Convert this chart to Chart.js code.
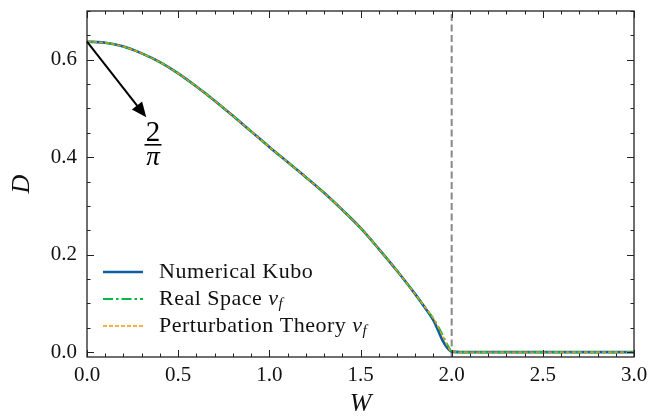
<!DOCTYPE html>
<html lang="en">
<head>
<meta charset="UTF-8">
<title>D vs W</title>
<script src="https://cdn.jsdelivr.net/npm/chart.js@4"></script>
<style>body{margin:0;background:#fff}</style>
</head>
<body>
<canvas id="chart" width="662" height="418"></canvas>
<script>
// values
const W = [0, 0.1, 0.2, 0.3, 0.4, 0.5, 0.6, 0.7, 0.8, 0.9, 1.0, 1.1, 1.2, 1.3, 1.4, 1.5, 1.6, 1.7, 1.8,
           1.85, 1.9, 1.925, 1.95, 1.975, 2.0, 2.05, 2.25, 2.5, 2.75, 3.0];
const kubo = [0.637, 0.635, 0.627, 0.613, 0.595, 0.572, 0.545, 0.516, 0.485, 0.453, 0.421, 0.390, 0.359, 0.327, 0.292, 0.255, 0.212, 0.167, 0.119,
              0.093, 0.065, 0.045, 0.024, 0.009, 0.001, 0, 0, 0, 0, 0];
const realSpace = [0.637, 0.635, 0.627, 0.613, 0.595, 0.572, 0.545, 0.516, 0.485, 0.453, 0.421, 0.390, 0.359, 0.327, 0.292, 0.255, 0.212, 0.167, 0.119,
                   0.094, 0.069, 0.053, 0.035, 0.016, 0.002, 0, 0, 0, 0, 0];
const perturbation = [0.637, 0.635, 0.627, 0.613, 0.595, 0.572, 0.545, 0.516, 0.485, 0.453, 0.421, 0.390, 0.359, 0.327, 0.292, 0.255, 0.212, 0.167, 0.119,
                      0.094, 0.069, 0.052, 0.033, 0.014, 0.001, 0, 0, 0, 0, 0];
const criticalW = 2.0;
const xTicks = [0, 0.5, 1.0, 1.5, 2.0, 2.5, 3.0];
const yTicks = [0, 0.2, 0.4, 0.6];
const xRange = [0, 3];
const yRange = [-0.01, 0.7];

// annotation: arrow from D(0) = 2/pi towards the label
const arrowTail = [0, 0.637];
const arrowHead = [0.325, 0.482];
const fracAt = [0.362, 0.425];

const SERIF = '"Liberation Serif", "Times New Roman", serif';

function pts(ys) {
    return W.map((w, i) => ({x: w, y: ys[i]}));
}

const legendRows = [
    {ds: 0, parts: [{t: 'Numerical Kubo'}]},
    {ds: 1, parts: [{t: 'Real Space '}, {t: 'v', it: true}, {t: 'f', it: true, sub: true}]},
    {ds: 2, parts: [{t: 'Perturbation Theory '}, {t: 'v', it: true}, {t: 'f', it: true, sub: true}]}
];

const decor = {
    id: 'decor',
    afterDraw(chart) {
        const {ctx, chartArea: a, scales: {x, y}} = chart;
        ctx.save();

        // frame + inward ticks on all sides
        ctx.strokeStyle = '#222';
        ctx.lineWidth = 1.3;
        ctx.strokeRect(a.left, a.top, a.right - a.left, a.bottom - a.top);
        ctx.lineWidth = 1;
        ctx.beginPath();
        for (let i = 0; i <= 30; i++) {
            const len = i % 5 === 0 ? 7 : 3.5;
            const px = Math.round(x.getPixelForValue(i / 10)) + 0.5;
            ctx.moveTo(px, a.bottom); ctx.lineTo(px, a.bottom - len);
            ctx.moveTo(px, a.top); ctx.lineTo(px, a.top + len);
        }
        for (let i = 0; i <= 14; i++) {
            const len = i % 4 === 0 ? 7 : 3.5;
            const py = Math.round(y.getPixelForValue(i * 0.05)) + 0.5;
            ctx.moveTo(a.left, py); ctx.lineTo(a.left + len, py);
            ctx.moveTo(a.right, py); ctx.lineTo(a.right - len, py);
        }
        ctx.stroke();

        // axis titles
        ctx.fillStyle = '#111';
        ctx.font = 'italic 26px ' + SERIF;
        ctx.textAlign = 'center';
        ctx.textBaseline = 'middle';
        ctx.fillText('W', (a.left + a.right) / 2, 404);
        ctx.save();
        ctx.translate(22, (a.top + a.bottom) / 2);
        ctx.rotate(-Math.PI / 2);
        ctx.fillText('D', 0, 0);
        ctx.restore();

        // arrow
        const tx = x.getPixelForValue(arrowTail[0]), ty = y.getPixelForValue(arrowTail[1]);
        const hx = x.getPixelForValue(arrowHead[0]), hy = y.getPixelForValue(arrowHead[1]);
        const ang = Math.atan2(hy - ty, hx - tx);
        const hl = 15, hw = 6.5;
        ctx.strokeStyle = '#000';
        ctx.fillStyle = '#000';
        ctx.lineWidth = 2;
        ctx.beginPath();
        ctx.moveTo(tx, ty);
        ctx.lineTo(hx - hl * 0.8 * Math.cos(ang), hy - hl * 0.8 * Math.sin(ang));
        ctx.stroke();
        ctx.beginPath();
        ctx.moveTo(hx, hy);
        ctx.lineTo(hx - hl * Math.cos(ang) + hw * Math.sin(ang), hy - hl * Math.sin(ang) - hw * Math.cos(ang));
        ctx.lineTo(hx - hl * Math.cos(ang) - hw * Math.sin(ang), hy - hl * Math.sin(ang) + hw * Math.cos(ang));
        ctx.closePath();
        ctx.fill();

        // 2/pi fraction
        const fx = x.getPixelForValue(fracAt[0]), fy = y.getPixelForValue(fracAt[1]);
        ctx.textAlign = 'center';
        ctx.textBaseline = 'alphabetic';
        ctx.font = '29px ' + SERIF;
        ctx.fillText('2', fx, fy - 4);
        ctx.fillRect(fx - 8.5, fy - 1, 17, 1.6);
        ctx.font = 'italic 27px ' + SERIF;
        ctx.fillText('\u03c0', fx, fy + 20);

        // legend
        const lx = a.left + 16, rowY = [a.top + 261, a.top + 288, a.top + 315];
        legendRows.forEach((row, k) => {
            const ds = chart.data.datasets[row.ds];
            const ly = rowY[k];
            ctx.save();
            ctx.strokeStyle = ds.borderColor;
            ctx.lineWidth = ds.borderWidth;
            ctx.setLineDash(ds.borderDash || []);
            ctx.beginPath();
            ctx.moveTo(lx, ly); ctx.lineTo(lx + 40, ly);
            ctx.stroke();
            ctx.restore();
            let cx = lx + 56;
            ctx.save();
            ctx.textAlign = 'left';
            ctx.textBaseline = 'middle';
            ctx.fillStyle = '#111';
            ctx.letterSpacing = '0.5px';
            row.parts.forEach(p => {
                const size = p.sub ? 15 : 22;
                ctx.font = (p.it ? 'italic ' : '') + size + 'px ' + SERIF;
                ctx.fillText(p.t, cx, ly + (p.sub ? 5 : 0));
                cx += ctx.measureText(p.t).width;
            });
            ctx.restore();
        });
        ctx.restore();
    }
};

new Chart(document.getElementById('chart'), {
    type: 'scatter',
    data: {
        datasets: [
            {label: 'Numerical Kubo', data: pts(kubo), showLine: true, borderColor: '#0C5DA5',
             borderWidth: 2.6, pointRadius: 0, cubicInterpolationMode: 'monotone', order: 3},
            {label: 'Real Space v_f', data: pts(realSpace), showLine: true, borderColor: '#00B945',
             borderWidth: 2, borderDash: [10, 3, 2.5, 3], pointRadius: 0, cubicInterpolationMode: 'monotone', order: 2},
            {label: 'Perturbation Theory v_f', data: pts(perturbation), showLine: true, borderColor: '#FF9500',
             borderWidth: 1.3, borderDash: [4, 2], pointRadius: 0, cubicInterpolationMode: 'monotone', order: 1},
            {label: 'W = 2', data: [{x: criticalW, y: yRange[0]}, {x: criticalW, y: yRange[1]}], showLine: true,
             borderColor: '#888', borderWidth: 2, borderDash: [7, 3.5], pointRadius: 0, order: 4}
        ]
    },
    options: {
        responsive: false,
        animation: false,
        layout: {padding: {left: 0, right: 28, top: 11, bottom: 0}},
        plugins: {legend: {display: false}, tooltip: {enabled: false}},
        scales: {
            x: {
                type: 'linear', min: xRange[0], max: xRange[1],
                grid: {display: false, drawTicks: false, tickLength: 0},
                border: {display: false},
                afterBuildTicks: s => { s.ticks = xTicks.map(v => ({value: v})); },
                afterFit: s => { s.height = 61; s.paddingLeft = 0; s.paddingRight = 0; },
                ticks: {font: {family: SERIF, size: 21}, color: '#111', padding: 6,
                        maxRotation: 0, callback: v => v.toFixed(1)}
            },
            y: {
                type: 'linear', min: yRange[0], max: yRange[1],
                grid: {display: false, drawTicks: false, tickLength: 0},
                border: {display: false},
                afterBuildTicks: s => { s.ticks = yTicks.map(v => ({value: v})); },
                afterFit: s => { s.width = 87; s.paddingTop = 0; s.paddingBottom = 0; },
                ticks: {font: {family: SERIF, size: 21}, color: '#111', padding: 10,
                        callback: v => v.toFixed(1)}
            }
        }
    },
    plugins: [decor]
});
</script>
</body>
</html>
